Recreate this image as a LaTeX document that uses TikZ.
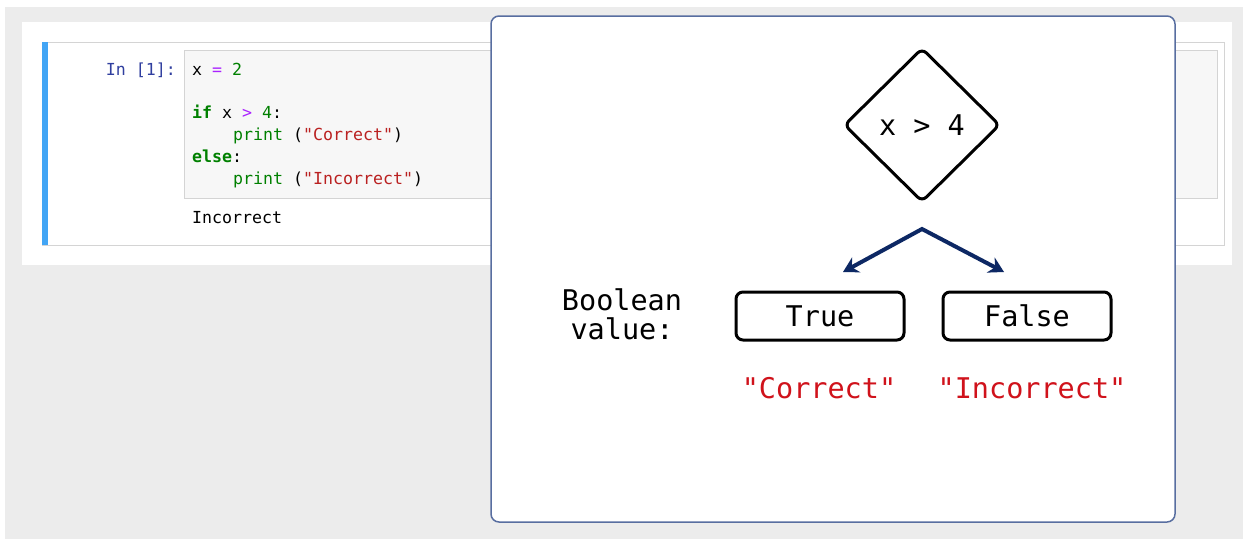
\documentclass[tikz,border=0pt]{standalone}
\usepackage{fontspec}
\usepackage{tikz}
\usetikzlibrary{shapes.geometric,arrows.meta}
\newfontfamily\codefont{DejaVu Sans Mono}
\definecolor{bggray}{RGB}{236,236,236}
\definecolor{cellline}{RGB}{212,212,212}
\definecolor{codebg}{RGB}{247,247,247}
\definecolor{jblue}{RGB}{66,165,245}
\definecolor{prompt}{RGB}{48,63,159}
\definecolor{kw}{RGB}{0,128,0}
\definecolor{op}{RGB}{170,34,255}
\definecolor{str}{RGB}{186,33,33}
\definecolor{panelline}{RGB}{88,110,160}
\definecolor{navy}{RGB}{13,40,100}
\definecolor{redtext}{RGB}{208,18,27}

\begin{document}
\begin{tikzpicture}[x=1pt,y=-1pt,
	codeline/.style={anchor=base west,inner sep=0pt,font=\codefont\fontsize{16.6}{20}\selectfont},
	bigtext/.style={inner sep=0pt,font=\codefont\fontsize{28.5}{29}\selectfont},
	valbox/.style={bigtext,draw,line width=3pt,rounded corners=7pt,minimum width=168pt,minimum height=48pt}]
	% 画布与背景
	\useasboundingbox (0,0) rectangle (1249,539);
	\fill[bggray] (5,7) rectangle (1243,539);
	% 笔记本单元
	\fill[white] (22,22) rectangle (1232,265);
	\draw[cellline,line width=1pt] (42,42) rectangle (1224,245);
	\fill[jblue] (42,42) rectangle (48,245);
	\filldraw[fill=codebg,draw=cellline,line width=1pt] (184,50) rectangle (1217,198);
	% 代码文字
	\node[codeline,anchor=base east,text=prompt] (prompt) at (176,75) {In [1]:};
	\node[codeline] (line1) at (192,75) {x \textcolor{op}{=} \textcolor{kw}{2}};
	\node[codeline] (line2) at (192,118) {\textbf{\textcolor{kw}{if}} x \textcolor{op}{>} \textcolor{kw}{4}:};
	\node[codeline] (line3) at (233,140) {\textcolor{kw}{print} (\textcolor{str}{"Correct"})};
	\node[codeline] (line4) at (192,162) {\textbf{\textcolor{kw}{else}}:};
	\node[codeline] (line5) at (233,184) {\textcolor{kw}{print} (\textcolor{str}{"Incorrect"})};
	\node[codeline] (output) at (192,223) {Incorrect};
	% 弹出的示意图
	\filldraw[fill=white,draw=panelline,line width=1.5pt,rounded corners=8pt] (491,16) rectangle (1175,522);
	\node[bigtext,diamond,draw,line width=3pt,rounded corners=6pt,minimum width=156pt,minimum height=154pt] (cond) at (922,125) {x > 4};
	% 分支箭头
	\coordinate (apex) at (922,229);
	\coordinate (tiptrue) at (843,272);
	\coordinate (tipfalse) at (1004,272);
	\draw[navy,line width=4pt,{Stealth[length=15pt,width=17pt,inset=5pt]}-{Stealth[length=15pt,width=17pt,inset=5pt]}] (tiptrue) -- (apex) -- (tipfalse);
	% 布尔值
	\node[bigtext,align=center] (label) at (622,314) {Boolean\\value:};
	\node[valbox] (true) at (820,316) {True};
	\node[valbox] (false) at (1027,316) {False};
	\node[bigtext,text=redtext,anchor=base] (correct) at (819,398) {"Correct"};
	\node[bigtext,text=redtext,anchor=base] (incorrect) at (1032,398) {"Incorrect"};
\end{tikzpicture}
\end{document}
